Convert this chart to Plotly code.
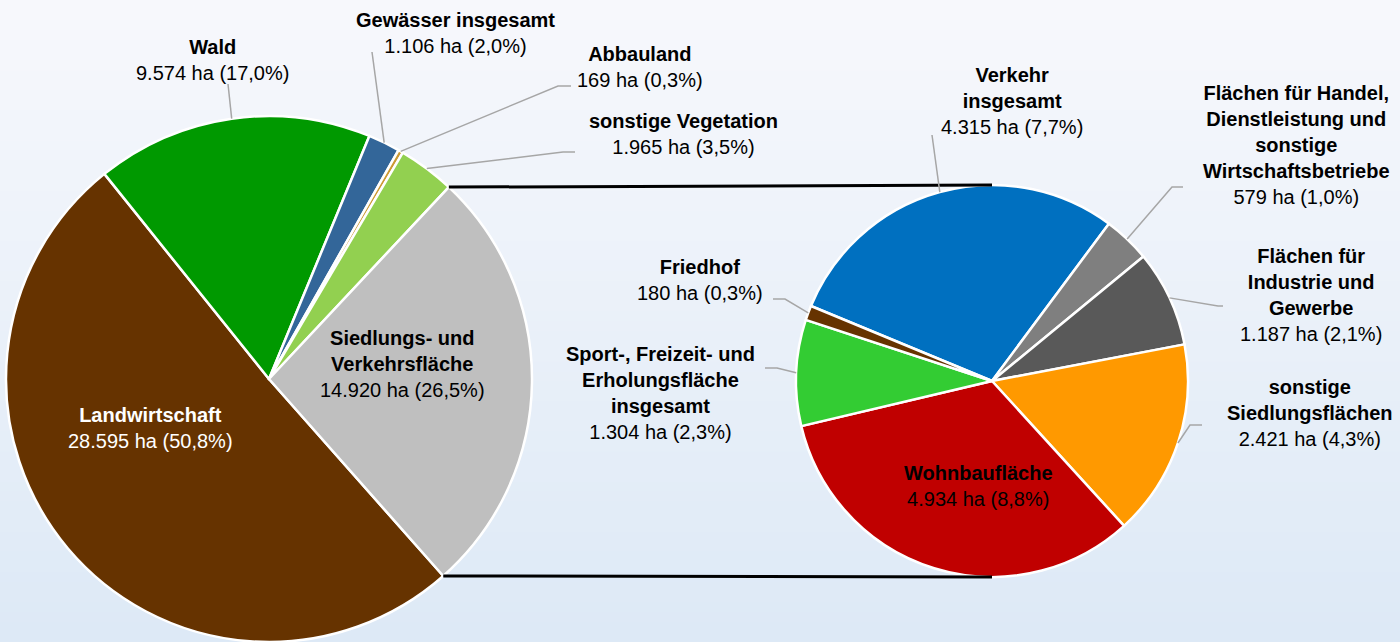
import math
import plotly.graph_objects as go

# ---------------- data ----------------
main_names = ["Landwirtschaft", "Wald", "Gewässer insgesamt", "Abbauland",
              "sonstige Vegetation", "Siedlungs- und Verkehrsfläche"]
main_values = [28595, 9574, 1106, 169, 1965, 14920]
main_colors = ["#663300", "#009900", "#336699", "#CC9933", "#92D050", "#BFBFBF"]

sub_names = ["Verkehr insgesamt",
             "Flächen für Handel, Dienstleistung und sonstige Wirtschaftsbetriebe",
             "Flächen für Industrie und Gewerbe", "sonstige Siedlungsflächen",
             "Wohnbaufläche", "Sport-, Freizeit- und Erholungsfläche insgesamt",
             "Friedhof"]
sub_values = [4315, 579, 1187, 2421, 4934, 1304, 180]
sub_colors = ["#0070C0", "#7F7F7F", "#595959", "#FF9900", "#C00000", "#33CC33", "#663300"]

# wrapped label titles (display text)
main_titles = ["Landwirtschaft", "Wald", "Gewässer insgesamt", "Abbauland",
               "sonstige Vegetation", "Siedlungs- und<br>Verkehrsfläche"]
sub_titles = ["Verkehr<br>insgesamt",
              "Flächen für Handel,<br>Dienstleistung und<br>sonstige<br>Wirtschaftsbetriebe",
              "Flächen für<br>Industrie und<br>Gewerbe", "sonstige<br>Siedlungsflächen",
              "Wohnbaufläche", "Sport-, Freizeit- und<br>Erholungsfläche<br>insgesamt",
              "Friedhof"]

TOTAL = sum(main_values)

# ---------------- layout constants (pixels) ----------------
W, H = 1400, 642
FONT = "Liberation Sans, Arial, sans-serif"
FS = 20

C1 = (269, 379); R1 = 263; ROT1 = 138.5
C2 = (992, 381); R2 = 196; ROT2 = 292.5

def px(x):
    return x / W

def py(y):
    return 1 - y / H

def fmt(v):
    pct = f"{100 * v / TOTAL:.1f}".replace(".", ",")
    return f"{v:,}".replace(",", ".") + f" ha ({pct}%)"

def slice_angles(values, rot):
    tot = sum(values)
    out, cum = [], 0
    for v in values:
        a0 = rot + 360 * cum / tot
        cum += v
        a1 = rot + 360 * cum / tot
        out.append((a0, a1))
    return out

def edge_point(c, r, ang):
    a = math.radians(ang)
    return (c[0] + r * math.sin(a), c[1] - r * math.cos(a))

fig = go.Figure()

fig.add_trace(go.Pie(
    labels=main_names, values=main_values, sort=False, direction="clockwise",
    rotation=ROT1, textinfo="none", hoverinfo="skip", showlegend=False,
    marker=dict(colors=main_colors, line=dict(color="white", width=2.5)),
    domain=dict(x=[px(C1[0] - R1), px(C1[0] + R1)], y=[py(C1[1] + R1), py(C1[1] - R1)]),
))
fig.add_trace(go.Pie(
    labels=sub_names, values=sub_values, sort=False, direction="clockwise",
    rotation=ROT2, textinfo="none", hoverinfo="skip", showlegend=False,
    marker=dict(colors=sub_colors, line=dict(color="white", width=2.5)),
    domain=dict(x=[px(C2[0] - R2), px(C2[0] + R2)], y=[py(C2[1] + R2), py(C2[1] - R2)]),
))

shapes = []
# background gradient
top = (247, 248, 252); bot = (221, 233, 246)
N = 64
for i in range(N):
    t = i / (N - 1)
    col = tuple(round(top[k] + (bot[k] - top[k]) * t) for k in range(3))
    shapes.append(dict(type="rect", xref="paper", yref="paper", layer="below",
                       x0=0, x1=1, y0=1 - i / N, y1=1 - (i + 1) / N - 0.002,
                       line=dict(width=0), fillcolor=f"rgb{col}"))

ang1 = slice_angles(main_values, ROT1)
ang2 = slice_angles(sub_values, ROT2)

# connector lines between the two pies
sied = ang1[5]
p_top = edge_point(C1, R1, sied[0])
p_bot = edge_point(C1, R1, sied[1])
for p, q in [(p_top, (C2[0], C2[1] - R2)), (p_bot, (C2[0], C2[1] + R2))]:
    shapes.append(dict(type="line", xref="paper", yref="paper", layer="above",
                       x0=px(p[0]), y0=py(p[1]), x1=px(q[0]), y1=py(q[1]),
                       line=dict(color="black", width=3)))

def leader(c, r, ang, pts):
    a = (ang[0] + ang[1]) / 2
    s = edge_point(c, r, a)
    path = f"M{px(s[0])},{py(s[1])}"
    for (x, y) in pts:
        path += f" L{px(x)},{py(y)}"
    shapes.append(dict(type="path", xref="paper", yref="paper", layer="above",
                       path=path, line=dict(color="#A6A6A6", width=1.5)))

# main pie leader lines (index -> elbow points)
main_leaders = {1: [(228, 84)], 2: [(372, 52)], 3: [(558, 86), (571, 86)],
                4: [(563, 152), (575, 152)]}
for i, pts in main_leaders.items():
    leader(C1, R1, ang1[i], pts)

sub_leaders = {0: [(932, 135)], 1: [(1172, 187), (1183, 187)],
               2: [(1218, 306), (1223, 306)], 3: [(1190, 425), (1202, 425)],
               5: [(777, 368), (765, 368)], 6: [(785, 299), (773, 299)]}
for i, pts in sub_leaders.items():
    leader(C2, R2, ang2[i], pts)

# label positions (text block centres, pixels)
main_pos = [(150, 428), (212, 60), (455, 33), (640, 67), (683, 134), (402, 364)]
sub_pos = [(1012, 101), (1296, 145), (1311, 295), (1310, 413), (978, 486),
           (660, 393), (700, 280)]

annotations = []
for i, (t, v) in enumerate(zip(main_titles, main_values)):
    color = "white" if i == 0 else "black"
    x, y = main_pos[i]
    annotations.append(dict(x=px(x), y=py(y), xref="paper", yref="paper",
                            text=f"<b>{t}</b><br>{fmt(v)}", showarrow=False,
                            xanchor="center", yanchor="middle", align="center",
                            font=dict(family=FONT, size=FS, color=color)))
for i, (t, v) in enumerate(zip(sub_titles, sub_values)):
    x, y = sub_pos[i]
    annotations.append(dict(x=px(x), y=py(y), xref="paper", yref="paper",
                            text=f"<b>{t}</b><br>{fmt(v)}", showarrow=False,
                            xanchor="center", yanchor="middle", align="center",
                            font=dict(family=FONT, size=FS, color="black")))

fig.update_layout(
    width=W, height=H, margin=dict(l=0, r=0, t=0, b=0, pad=0),
    paper_bgcolor="#F7F8FC", plot_bgcolor="rgba(0,0,0,0)",
    shapes=shapes, annotations=annotations, showlegend=False,
)

fig.write_html("out.html", config={"displayModeBar": False},
               post_script="document.body.style.margin='0';document.body.style.overflow='hidden';")
